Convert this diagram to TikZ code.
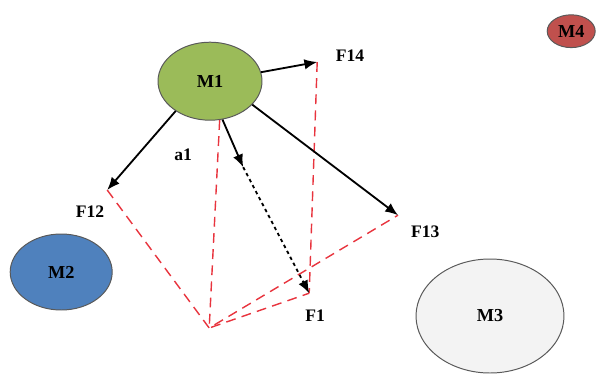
\documentclass[tikz,border=0pt]{standalone}
\usepackage{fontspec}
\setmainfont{Liberation Serif}
\usepackage{tikz}
\usetikzlibrary{shapes.geometric,arrows.meta}
\definecolor{mgreen}{RGB}{155,187,89}
\definecolor{mblue}{RGB}{79,129,189}
\definecolor{mgray}{RGB}{243,243,243}
\definecolor{mred}{RGB}{192,80,77}
\definecolor{fred}{RGB}{232,52,62}
\tikzset{
  mass/.style={ellipse, draw=black!65, line width=0.7pt, inner sep=0pt,
    font=\fontsize{13}{15}\selectfont\bfseries},
  force/.style={-{Latex[length=3.2mm,width=2.6mm]}, line width=1.3pt},
  proj/.style={fred, line width=1pt, dash pattern=on 7pt off 4.5pt},
  lab/.style={font=\fontsize{12.5}{15}\selectfont\bfseries}
}
\begin{document}
\begin{tikzpicture}
        \useasboundingbox (0,0) rectangle (14.95,-9.35);
        \node[mass, fill=mgreen, minimum width=2.6cm, minimum height=1.95cm] (M1) at (5.25,-2.03) {M1};
        \node[mass, fill=mblue, minimum width=2.55cm, minimum height=1.9cm] (M2) at (1.53,-6.8) {M2};
        \node[mass, fill=mgray, minimum width=3.7cm, minimum height=2.85cm] (M3) at (12.25,-7.9) {M3};
        \node[mass, fill=mred, minimum width=1.2cm, minimum height=0.82cm] (M4) at (14.28,-0.78) {M4};
        \coordinate (F14) at (7.93,-1.55);
        \coordinate (F12) at (2.68,-4.75);
        \coordinate (F13) at (9.95,-5.38);
        \coordinate (F1) at (7.73,-7.33);
        \coordinate (O) at (5.23,-8.2);
        \coordinate (a1) at (6.08,-4.18);
        % red dashed construction
        \draw[proj] (F12)--(O)--(F13);
        \draw[proj] (M1.-76)--(O)--(F1);
        \draw[proj] (F14)--(F1);
        % forces
        \draw[force] (M1.10)--(F14);
        \draw[force] (M1.221)--(F12);
        \draw[force] (M1.-29)--(F13);
        \draw[force] (M1.-72)--(a1);
        \draw[force, dash pattern=on 2.4pt off 2.4pt] (a1)--(F1);
        % labels
        \node[lab] (tF14) at (8.75,-1.38) {F14};
        \node[lab] (tF12) at (2.25,-5.28) {F12};
        \node[lab] (tF13) at (10.63,-5.8) {F13};
        \node[lab] (tF1) at (7.88,-7.88) {F1};
        \node[lab] (ta1) at (4.58,-3.88) {a1};
\end{tikzpicture}
\end{document}
